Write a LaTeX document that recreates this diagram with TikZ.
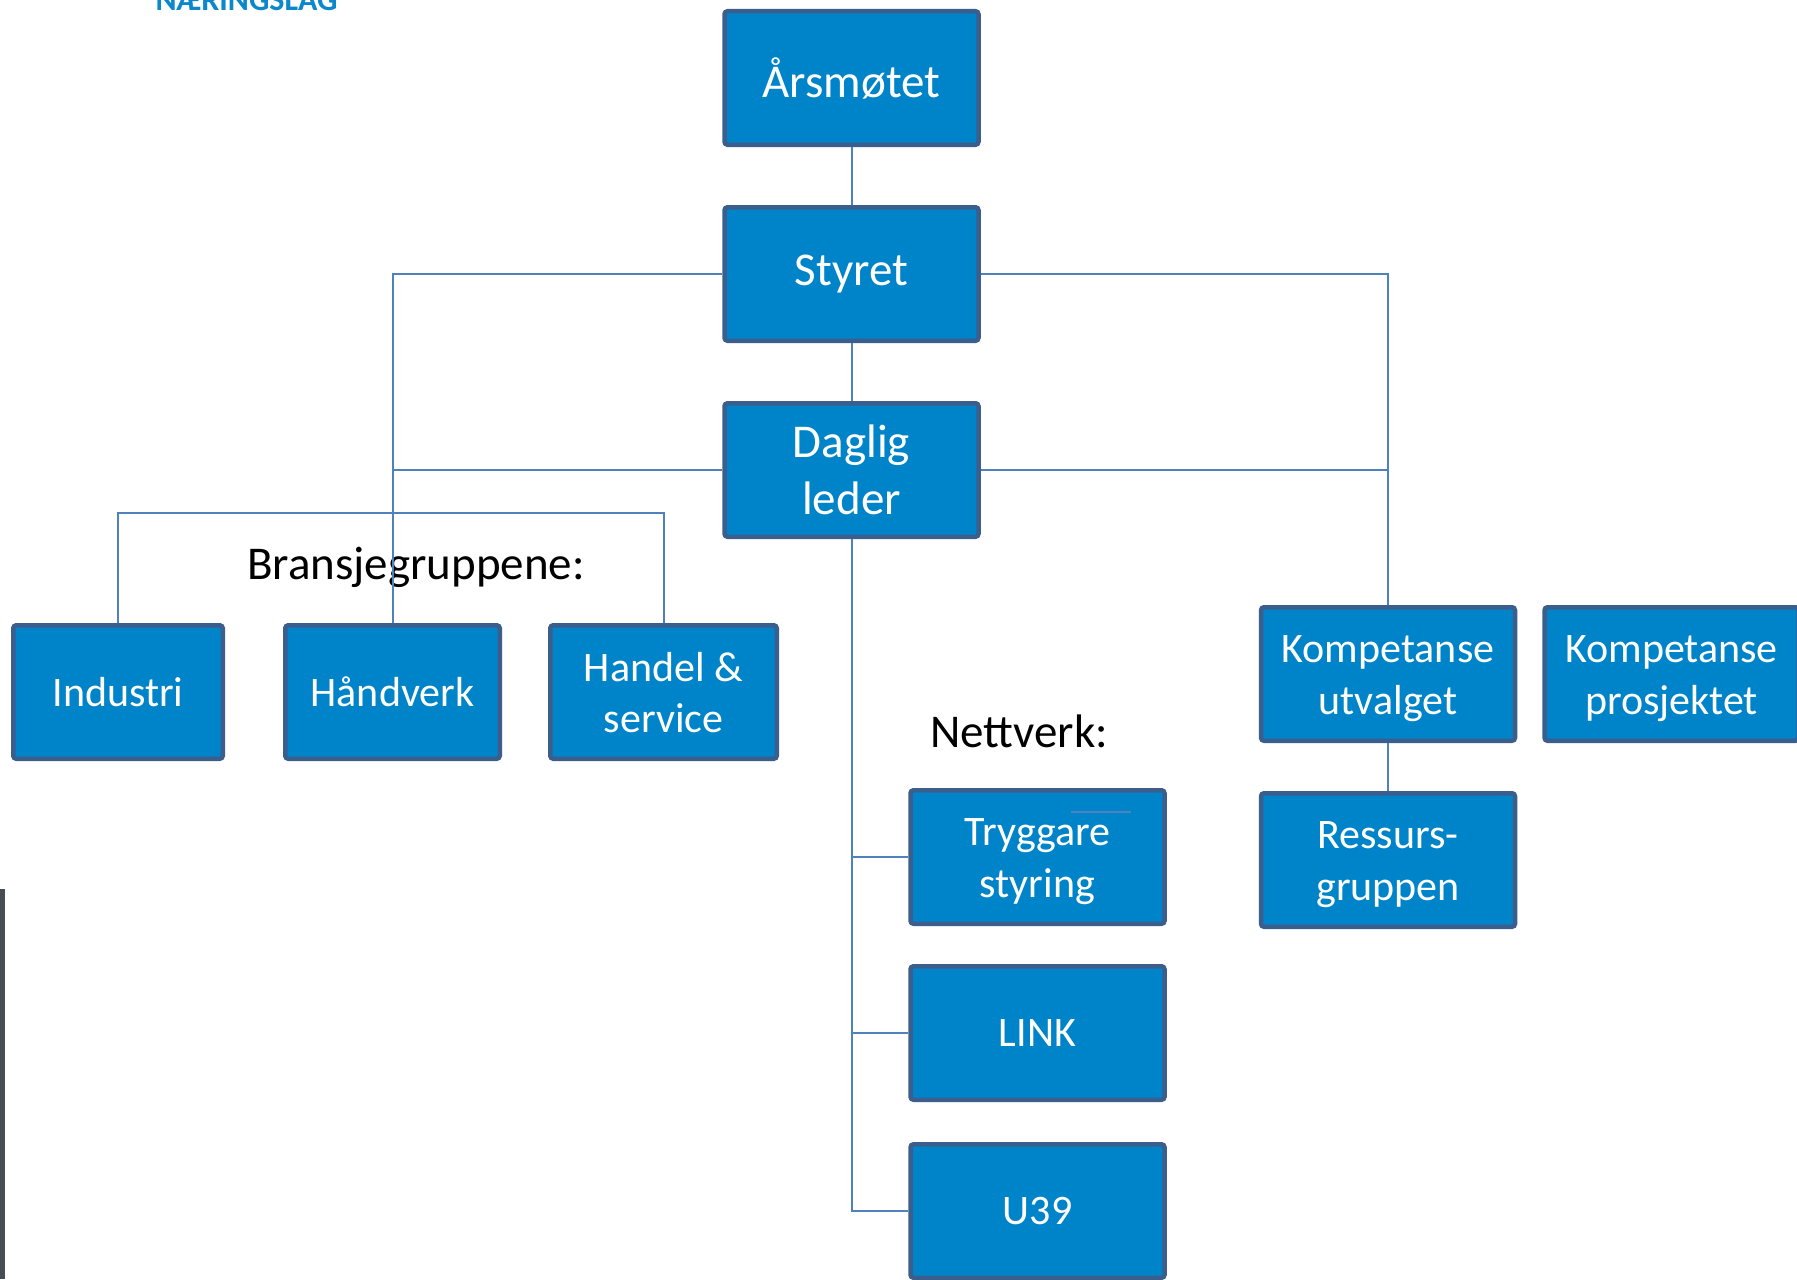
\documentclass[tikz,border=0pt]{standalone}
\usepackage{fontspec}
\setmainfont{Carlito}
\usetikzlibrary{positioning}
\definecolor{boksblaa}{RGB}{0,132,201}
\definecolor{kantblaa}{RGB}{59,94,140}
\definecolor{linjeblaa}{RGB}{79,129,189}
\definecolor{logoblaa}{RGB}{10,136,203}
\definecolor{kantgraa}{RGB}{71,77,82}

\begin{document}
\begin{tikzpicture}[
    x=0.5pt, y=-0.5pt,
    node distance=29pt,
    boks/.style={
        draw=kantblaa,
        fill=boksblaa,
        line width=2.25pt,
        rounded corners=1.5pt,
        align=center,
        text=white,
        inner sep=2pt,
        minimum width=127pt,
        minimum height=66.75pt,
        font=\fontsize{21}{25.8}\selectfont
    },
    stor/.style={font=\fontsize{23.5}{28.7}\selectfont},
    tolinje/.style={text height=44pt},
    linje/.style={draw=linjeblaa, line width=1pt},
    overskrift/.style={font=\fontsize{23.5}{28.7}\selectfont}
]
    \clip (0,0) rectangle (1797,1279);

    % Logo (avskoren) og kant
    \node[anchor=base, text=logoblaa, font=\fontsize{16}{19}\selectfont\bfseries] (logo) at (246.5,11) {NÆRINGSLAG};
    \fill[kantgraa] (0,889) rectangle (5,1279);

    % Midtkolonne
    \node[boks, stor] (aarsmote) at (851.5,78) {Årsmøtet};
    \node[boks, stor, below=of aarsmote] (styret) {Styret};
    \node[boks, stor, below=of styret] (dagleg) {Daglig\\leder};

    % Bransjegruppene
    \node[boks, minimum width=107.25pt] (handverk) at (392.5,692) {Håndverk};
    \node[boks, minimum width=104.75pt, left=29pt of handverk] (industri) {Industri};
    \node[boks, minimum width=113.25pt, text height=41pt, right=23pt of handverk] (handel) {Handel \&\\service};
    \node[overskrift] (bransje) at (416,567) {Bransjegruppene:};

    % Kompetanse
    \node[boks, tolinje] (kompu) at (1388,674) {Kompetanse\\utvalget};
    \node[boks, tolinje, right=12.5pt of kompu] (kompp) {Kompetanse\\prosjektet};
    \node[boks, tolinje, below=24pt of kompu] (ressurs) {Ressurs-\\gruppen};

    % Nettverk
    \node[overskrift] (nettverk) at (1019,731) {Nettverk:};
    \node[boks, tolinje] (tryggare) at (1037.5,857) {Tryggare\\styring};
    \node[boks, below=19pt of tryggare] (link) {LINK};
    \node[boks, below=20pt of link] (u39) {U39};

    % Linjer
    \draw[linje] (aarsmote) -- (styret);
    \draw[linje] (styret) -- (dagleg);
    \coordinate (vhjorne) at (styret.west -| handverk.north);
    \draw[linje] (styret.west) -- (vhjorne) -- (handverk.north);
    \draw[linje] (dagleg.west) -- (dagleg.west -| vhjorne);
    \coordinate (buss) at (393,513);
    \draw[linje] (industri.north) |- (buss) -| (handel.north);
    \coordinate (hhjorne) at (styret.east -| kompu.north);
    \draw[linje] (styret.east) -- (hhjorne) -- (kompu.north);
    \draw[linje] (dagleg.east) -- (dagleg.east -| kompu.north);
    \draw[linje] (kompu) -- (ressurs);
    \draw[linje] (dagleg.south) |- (u39.west);
    \draw[linje] (dagleg.south |- tryggare.west) -- (tryggare.west);
    \draw[linje] (dagleg.south |- link.west) -- (link.west);
    \draw[linje] ([xshift=16.75pt,yshift=-12pt]tryggare.north) -- ([xshift=46.75pt,yshift=-12pt]tryggare.north);
\end{tikzpicture}
\end{document}
